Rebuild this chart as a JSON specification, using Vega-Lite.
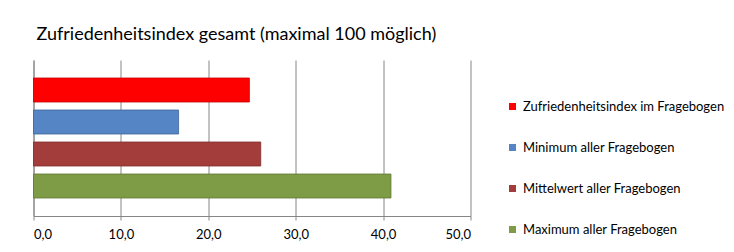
{
  "$schema": "https://vega.github.io/schema/vega-lite/v6.json",
  "autosize": {"type": "none"},
  "width": 437,
  "height": 156,
  "padding": {"left": 33.5, "top": 60, "right": 263.5, "bottom": 36},
  "background": "white",
  "title": {
    "text": "Zufriedenheitsindex gesamt (maximal 100 möglich)",
    "anchor": "start",
    "frame": "group",
    "offset": 16,
    "dx": 3,
    "font": "Lato",
    "fontSize": 18,
    "fontWeight": "normal",
    "color": "#000000"
  },
  "data": {
    "values": [
      {"serie": "Zufriedenheitsindex im Fragebogen", "wert": 24.7},
      {"serie": "Minimum aller Fragebogen", "wert": 16.6},
      {"serie": "Mittelwert aller Fragebogen", "wert": 26.0},
      {"serie": "Maximum aller Fragebogen", "wert": 40.9}
    ]
  },
  "mark": {"type": "bar", "strokeWidth": 0.8},
  "encoding": {
    "y": {
      "field": "serie",
      "type": "nominal",
      "sort": null,
      "scale": {"paddingInner": 0.25, "paddingOuter": 0.5625},
      "axis": {"labels": false, "ticks": false, "title": null, "domainColor": "#868686", "domainWidth": 1}
    },
    "x": {
      "field": "wert",
      "type": "quantitative",
      "scale": {"domain": [0, 50], "nice": false},
      "axis": {
        "values": [0, 10, 20, 30, 40, 50],
        "labelExpr": "replace(format(datum.value, '.1f'), '.', ',')",
        "title": null,
        "grid": true,
        "gridColor": "#868686",
        "gridWidth": 1,
        "domainColor": "#868686",
        "tickColor": "#868686",
        "tickSize": 4,
        "labelFont": "Lato",
        "labelFontSize": 13,
        "labelColor": "#000000",
        "labelPadding": 8
      }
    },
    "color": {
      "field": "serie",
      "type": "nominal",
      "sort": null,
      "scale": {
        "domain": ["Zufriedenheitsindex im Fragebogen", "Minimum aller Fragebogen", "Mittelwert aller Fragebogen", "Maximum aller Fragebogen"],
        "range": ["#FF0000", "#5585C5", "#A23D3B", "#7E9C45"]
      },
      "legend": {
        "orient": "none",
        "legendX": 472.5,
        "legendY": 40,
        "title": null,
        "symbolType": "square",
        "symbolSize": 49,
        "symbolStrokeWidth": 0,
        "labelFont": "Lato",
        "labelFontSize": 13,
        "labelColor": "#000000",
        "labelOffset": 4,
        "rowPadding": 27,
        "labelLimit": 260
      }
    },
    "stroke": {
      "field": "serie",
      "type": "nominal",
      "sort": null,
      "scale": {
        "domain": ["Zufriedenheitsindex im Fragebogen", "Minimum aller Fragebogen", "Mittelwert aller Fragebogen", "Maximum aller Fragebogen"],
        "range": ["#C00000", "#3C6699", "#7E2D2B", "#5F7733"]
      },
      "legend": null
    }
  },
  "config": {
    "view": {"stroke": null}
  }
}
